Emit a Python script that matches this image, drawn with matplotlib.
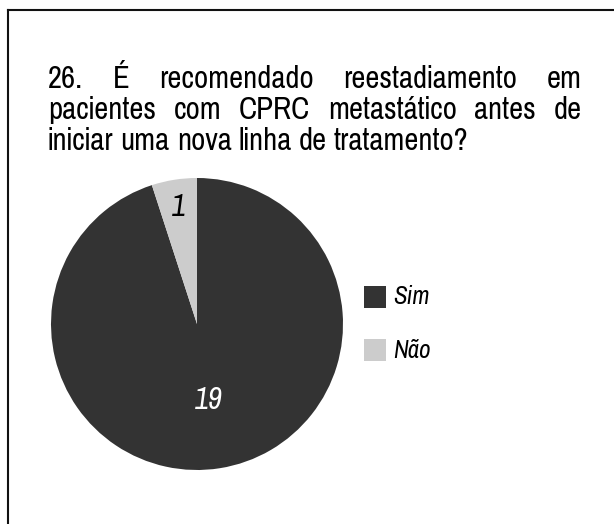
import matplotlib
matplotlib.use("Agg")
import matplotlib.pyplot as plt
from matplotlib.lines import Line2D
from matplotlib.patches import Rectangle
import numpy as np

title_lines = [
    "26. É recomendado reestadiamento em",
    "pacientes com CPRC metastático antes de",
    "iniciar uma nova linha de tratamento?",
]
labels = ["Sim", "Não"]
values = [19, 1]
colors = ["#333333", "#cccccc"]
label_colors = ["white", "black"]
label_radius = [0.53, 0.81]

plt.rcParams['font.family'] = ['Archivo Narrow', 'DejaVu Sans']
title_font = ['Pragati Narrow', 'Archivo Narrow', 'DejaVu Sans']

W, H = 614, 524
fig = plt.figure(figsize=(W / 100, H / 100), dpi=100)
renderer = fig.canvas.get_renderer()

# border (only top and left are visible in the crop)
fig.add_artist(Line2D([8 / W, 8 / W], [0, 1 - 10 / H], color="#111111", lw=1.5))
fig.add_artist(Line2D([8 / W, 1], [1 - 10 / H, 1 - 10 / H], color="#111111", lw=1.5))

# title size chosen so the last (unjustified) line is ~420 px wide
probe = fig.text(0, 0, title_lines[-1], fontsize=20, family=title_font)
fs = 20 * 420 / probe.get_window_extent(renderer).width
probe.remove()

x0, x1 = 48, 582
line_y = [88, 119, 150]  # baselines, px from top
for i, line in enumerate(title_lines):
    words = line.split(" ")
    texts = [fig.text(0, 1 - line_y[i] / H, w, fontsize=fs, family=title_font,
                      va="baseline", ha="left") for w in words]
    widths = [t.get_window_extent(renderer).width for t in texts]
    if i < len(title_lines) - 1:
        gap = (x1 - x0 - sum(widths)) / (len(words) - 1)
    else:
        sp = fig.text(0, 0, "a a", fontsize=fs, family=title_font)
        sp2 = fig.text(0, 0, "aa", fontsize=fs, family=title_font)
        gap = sp.get_window_extent(renderer).width - sp2.get_window_extent(renderer).width
        sp.remove(); sp2.remove()
    x = x0
    for t, w in zip(texts, widths):
        t.set_x(x / W)
        x += w + gap

# pie
cx, cy, r = 197, 324, 146
ax = fig.add_axes([(cx - r) / W, (H - cy - r) / H, 2 * r / W, 2 * r / H])
wedges, _ = ax.pie(values, colors=colors, startangle=90, counterclock=False, radius=1)
ax.set_xlim(-1, 1)
ax.set_ylim(-1, 1)
ax.set_aspect("equal")
for w, v, c, rr in zip(wedges, values, label_colors, label_radius):
    ang = np.deg2rad((w.theta1 + w.theta2) / 2)
    ax.text(rr * np.cos(ang), rr * np.sin(ang), str(v), color=c, fontsize=22,
            style="italic", ha="center", va="center")

# legend
leg_y = [297, 350]
for lab, col, y in zip(labels, colors, leg_y):
    fig.add_artist(Rectangle((364 / W, 1 - (y + 11) / H), 22 / W, 22 / H,
                             facecolor=col, edgecolor="none", transform=fig.transFigure))
    fig.text(393 / W, 1 - y / H, lab, fontsize=18, style="italic", va="center", ha="left")

fig.savefig("out.png", dpi=100)
